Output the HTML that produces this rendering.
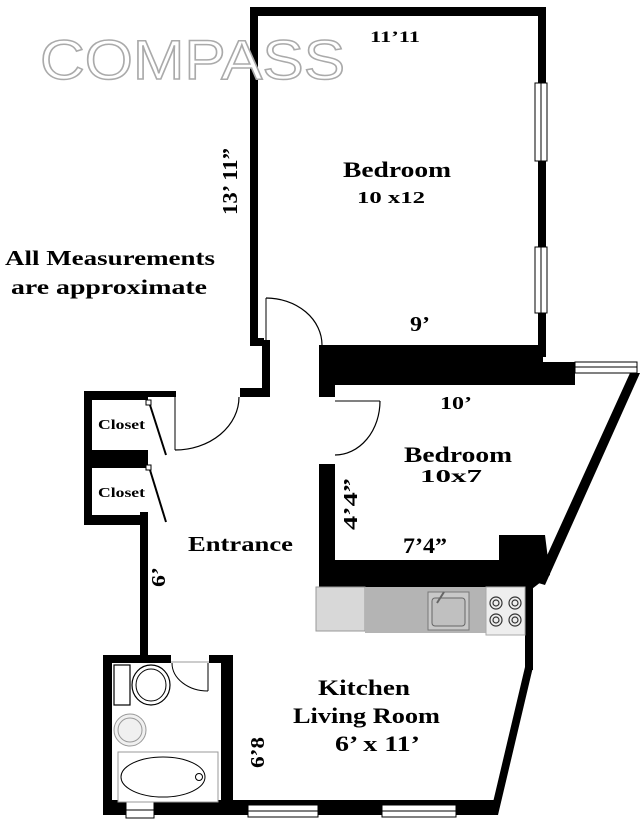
<!DOCTYPE html>
<html><head><meta charset="utf-8"><style>
html,body{margin:0;padding:0;background:#fff;}
svg{display:block;}
text{font-family:"Liberation Serif",serif;font-weight:bold;fill:#000;}
</style></head><body>
<svg width="640" height="824" viewBox="0 0 640 824" xmlns="http://www.w3.org/2000/svg">
<rect width="640" height="824" fill="#fff"/>
<!-- Bedroom 1 walls -->
<rect x="250" y="7" width="296" height="9" fill="#000"/>
<rect x="250" y="7" width="8" height="338" fill="#000"/>
<rect x="538" y="7" width="8" height="350" fill="#000"/>
<rect x="535" y="83" width="12" height="78" fill="#fff" stroke="#000" stroke-width="1"/>
<line x1="541" y1="83" x2="541" y2="161" stroke="#000" stroke-width="1"/>
<rect x="535" y="247" width="12" height="66" fill="#fff" stroke="#000" stroke-width="1"/>
<line x1="541" y1="247" x2="541" y2="313" stroke="#000" stroke-width="1"/>
<rect x="250" y="338" width="14" height="8" fill="#000"/>
<rect x="262" y="340" width="8" height="57" fill="#000"/>
<rect x="240" y="388" width="30" height="9" fill="#000"/>
<rect x="319" y="345" width="224" height="40" fill="#000"/>
<rect x="319" y="345" width="16" height="52" fill="#000"/>
<rect x="540" y="362" width="35" height="23" fill="#000"/>
<rect x="575" y="362" width="62" height="11" fill="#fff" stroke="#000" stroke-width="1"/>
<line x1="575" y1="367" x2="637" y2="367" stroke="#000" stroke-width="1"/>
<polygon points="630,373 640,373 545,585 535,582" fill="#000"/>
<rect x="319" y="464" width="16" height="124" fill="#000"/>
<rect x="319" y="560" width="200" height="28" fill="#000"/>
<polygon points="499,535 545,535 550,575 528,592 499,592" fill="#000"/>
<rect x="525" y="580" width="8" height="90" fill="#000"/>
<polygon points="525,667 533,667 498,815 490,815" fill="#000"/>
<!-- closets -->
<rect x="84" y="391" width="8" height="134" fill="#000"/>
<rect x="84" y="391" width="64" height="9" fill="#000"/>
<rect x="148" y="391" width="28" height="6" fill="#000"/>
<rect x="84" y="450" width="64" height="18" fill="#000"/>
<rect x="84" y="515" width="64" height="10" fill="#000"/>
<rect x="146" y="400" width="5" height="5" fill="#fff" stroke="#000" stroke-width="1"/>
<rect x="146" y="465" width="5" height="5" fill="#fff" stroke="#000" stroke-width="1"/>
<line x1="150" y1="405" x2="166" y2="455" stroke="#000" stroke-width="2"/>
<line x1="150" y1="470" x2="166" y2="522" stroke="#000" stroke-width="2"/>
<rect x="140" y="512" width="8" height="150" fill="#000"/>
<!-- bathroom -->
<rect x="103" y="655" width="68" height="8" fill="#000"/>
<rect x="209" y="655" width="24" height="8" fill="#000"/>
<rect x="103" y="655" width="9" height="160" fill="#000"/>
<rect x="221" y="655" width="12" height="160" fill="#000"/>
<rect x="103" y="800" width="392" height="15" fill="#000"/>
<rect x="126" y="802" width="28" height="16" fill="#fff" stroke="#000" stroke-width="1"/>
<line x1="126" y1="810" x2="154" y2="810" stroke="#000"/>
<rect x="248" y="805" width="70" height="12" fill="#fff" stroke="#000" stroke-width="1"/>
<line x1="248" y1="811" x2="318" y2="811" stroke="#000"/>
<rect x="382" y="805" width="74" height="12" fill="#fff" stroke="#000" stroke-width="1"/>
<line x1="382" y1="811" x2="456" y2="811" stroke="#000"/>
<!-- doors -->
<line x1="175" y1="397" x2="175" y2="450" stroke="#000" stroke-width="1"/>
<path d="M239,397 A64,53 0 0 1 175,450" fill="none" stroke="#000" stroke-width="1.2"/>
<line x1="335" y1="401" x2="380" y2="401" stroke="#000" stroke-width="1"/>
<path d="M380,401 A45,54 0 0 1 335,455" fill="none" stroke="#000" stroke-width="1.2"/>
<line x1="266" y1="298" x2="266" y2="345" stroke="#000" stroke-width="1"/>
<path d="M266,298 A56,47 0 0 1 322,345" fill="none" stroke="#000" stroke-width="1.2"/>
<line x1="208" y1="663" x2="208" y2="691" stroke="#000" stroke-width="1"/>
<line x1="171" y1="662" x2="209" y2="662" stroke="#999" stroke-width="1"/>
<path d="M172,663 A36,28 0 0 0 208,691" fill="none" stroke="#000" stroke-width="1"/>
<!-- kitchen counter -->
<rect x="316" y="587" width="49" height="44" fill="#d8d8d8" stroke="#999" stroke-width="1"/>
<rect x="365" y="587" width="121" height="46" fill="#b4b4b4"/>
<rect x="428" y="592" width="41" height="38" fill="#c8c8c8" stroke="#777" stroke-width="1"/>
<rect x="432" y="598" width="33" height="28" rx="3" fill="#c0c0c0" stroke="#666" stroke-width="1"/>
<line x1="444" y1="592" x2="437" y2="603" stroke="#666" stroke-width="2"/>
<rect x="486" y="587" width="39" height="48" fill="#eee" stroke="#aaa" stroke-width="1"/>
<g fill="none" stroke="#333" stroke-width="1.2">
<circle cx="496" cy="603" r="6"/><circle cx="496" cy="603" r="3"/>
<circle cx="515" cy="603" r="6"/><circle cx="515" cy="603" r="3"/>
<circle cx="496" cy="620" r="6"/><circle cx="496" cy="620" r="3"/>
<circle cx="515" cy="620" r="6"/><circle cx="515" cy="620" r="3"/>
</g>
<!-- bath fixtures -->
<rect x="114" y="665" width="16" height="40" fill="#fff" stroke="#000" stroke-width="1.2"/>
<ellipse cx="151" cy="685" rx="19" ry="20" fill="#fff" stroke="#000" stroke-width="1.2"/>
<ellipse cx="151" cy="685" rx="15" ry="16" fill="none" stroke="#000" stroke-width="1"/>
<circle cx="130" cy="730" r="16" fill="#f0f0f0" stroke="#999" stroke-width="1"/>
<circle cx="130" cy="730" r="12" fill="none" stroke="#999" stroke-width="1"/>
<rect x="118" y="752" width="100" height="50" fill="#fff" stroke="#999" stroke-width="1"/>
<ellipse cx="163" cy="777" rx="42" ry="20" fill="#fff" stroke="#000" stroke-width="1"/>
<circle cx="199" cy="777" r="3.5" fill="none" stroke="#000" stroke-width="1"/>
<!-- watermark -->
<text x="40" y="79" textLength="305" lengthAdjust="spacingAndGlyphs" font-size="56" style="font-family:'Liberation Sans',sans-serif;font-weight:normal;fill:#fff;stroke:#aaa;stroke-width:1.5">COMPASS</text>
<!-- labels -->
<text x="370" y="42" font-size="16" textLength="50" lengthAdjust="spacingAndGlyphs">11’11</text>
<text x="343" y="177" font-size="22" textLength="108" lengthAdjust="spacingAndGlyphs">Bedroom</text>
<text x="357" y="203" font-size="17" textLength="68" lengthAdjust="spacingAndGlyphs">10 x12</text>
<text transform="translate(237,215) rotate(-90)" font-size="21" textLength="67" lengthAdjust="spacingAndGlyphs">13’ 11”</text>
<text x="5" y="265" font-size="21" textLength="210" lengthAdjust="spacingAndGlyphs">All Measurements</text>
<text x="11" y="294" font-size="21" textLength="196" lengthAdjust="spacingAndGlyphs">are  approximate</text>
<text x="410" y="331" font-size="21" textLength="20" lengthAdjust="spacingAndGlyphs">9’</text>
<text x="440" y="409" font-size="18" textLength="32" lengthAdjust="spacingAndGlyphs">10’</text>
<text x="404" y="462" font-size="22" textLength="108" lengthAdjust="spacingAndGlyphs">Bedroom</text>
<text x="420" y="482" font-size="18" textLength="62" lengthAdjust="spacingAndGlyphs">10x7</text>
<text transform="translate(357,530) rotate(-90)" font-size="20" textLength="52" lengthAdjust="spacingAndGlyphs">4’4”</text>
<text x="403" y="553" font-size="22" textLength="44" lengthAdjust="spacingAndGlyphs">7’4”</text>
<text x="98" y="429" font-size="14" textLength="47" lengthAdjust="spacingAndGlyphs">Closet</text>
<text x="98" y="497" font-size="14" textLength="47" lengthAdjust="spacingAndGlyphs">Closet</text>
<text x="188" y="551" font-size="21" textLength="105" lengthAdjust="spacingAndGlyphs">Entrance</text>
<text transform="translate(165,587) rotate(-90)" font-size="20" textLength="20" lengthAdjust="spacingAndGlyphs">6’</text>
<text x="318" y="695" font-size="22" textLength="92" lengthAdjust="spacingAndGlyphs">Kitchen</text>
<text x="293" y="723" font-size="22" textLength="147" lengthAdjust="spacingAndGlyphs">Living Room</text>
<text x="335" y="751" font-size="22" textLength="85" lengthAdjust="spacingAndGlyphs">6’ x 11’</text>
<text transform="translate(264,768) rotate(-90)" font-size="20" textLength="31" lengthAdjust="spacingAndGlyphs">6’8</text>
</svg>
</body></html>
